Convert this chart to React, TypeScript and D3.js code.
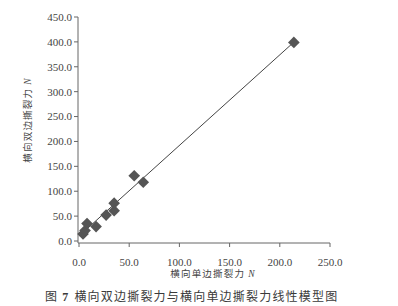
import React from "react";
import * as d3 from "d3";

const singleTear = [4, 6, 8, 17, 27, 35, 35, 55, 64, 214];
const doubleTear = [14, 21, 35, 29, 52, 61, 76, 131, 118, 399];
const fitIntercept = 10;
const fitSlope = 1.82;
const fitRange = [0, 214];
const xTicks = [0, 50, 100, 150, 200, 250];
const yTicks = [0, 50, 100, 150, 200, 250, 300, 350, 400, 450];
const xTitle = "横向单边撕裂力";
const yTitle = "横向双边撕裂力";
const caption = "横向双边撕裂力与横向单边撕裂力线性模型图";

const W = 398;
const H = 306;

export default function App() {
  const x = d3.scaleLinear().domain([0, 250]).range([79, 330]);
  const y = d3.scaleLinear().domain([0, 450]).range([241, 17]);
  const axisY = 243;
  const axisX = 78;
  const numFont = "'Liberation Serif', 'DejaVu Serif', serif";
  const cjkFont = "'Noto Sans CJK SC', sans-serif";
  const line = d3
    .line<number>()
    .x((d) => x(d))
    .y((d) => y(fitIntercept + fitSlope * d));
  const diamond = d3.symbol(d3.symbolSquare, 68)();
  const fmt = d3.format(".1f");
  return (
    <svg
      width={W}
      height={H}
      style={{ position: "absolute", left: 0, top: 0, background: "#fff" }}
    >
      {/* axes */}
      <line x1={axisX} x2={axisX} y1={y(450)} y2={axisY} stroke="#666" strokeWidth={1} />
      <line x1={axisX} x2={x(250)} y1={axisY} y2={axisY} stroke="#666" strokeWidth={1} />
      {yTicks.map((t) => (
        <g key={"y" + t}>
          <line x1={axisX - 4} x2={axisX} y1={y(t)} y2={y(t)} stroke="#666" />
          <text
            x={axisX - 6}
            y={y(t)}
            dy="0.35em"
            textAnchor="end"
            fontFamily={numFont}
            fontSize={11}
            fill="#444"
          >
            {fmt(t)}
          </text>
        </g>
      ))}
      {xTicks.map((t) => (
        <g key={"x" + t}>
          <line x1={x(t)} x2={x(t)} y1={axisY} y2={axisY + 4} stroke="#666" />
          <text
            x={x(t)}
            y={265.5}
            textAnchor="middle"
            fontFamily={numFont}
            fontSize={11}
            fill="#444"
          >
            {fmt(t)}
          </text>
        </g>
      ))}
      {/* fit line */}
      <path d={line(fitRange) || ""} stroke="#444" strokeWidth={1} fill="none" />
      {/* points */}
      {singleTear.map((v, i) => (
        <path
          key={"p" + i}
          d={diamond || ""}
          transform={`translate(${x(v)},${y(doubleTear[i])}) rotate(45)`}
          fill="#555"
        />
      ))}
      {/* axis titles */}
      <text
        x={213}
        y={277}
        textAnchor="middle"
        fontFamily={cjkFont}
        fontSize={9.5}
        fill="#444"
        letterSpacing={1.2}
      >
        {xTitle}
        <tspan fontFamily={numFont} fontStyle="italic" dx={3}>N</tspan>
      </text>
      <text
        transform={`translate(31,120) rotate(-90)`}
        textAnchor="middle"
        fontFamily={cjkFont}
        fontSize={9.5}
        fill="#444"
        letterSpacing={1.2}
      >
        {yTitle}
        <tspan fontFamily={numFont} fontStyle="italic" dx={3}>N</tspan>
      </text>
      {/* caption */}
      <text
        x={45}
        y={301}
        fontFamily={cjkFont}
        fontSize={12}
        fill="#3a3a3a"
        letterSpacing={1.2}
      >
        图
        <tspan fontFamily={numFont} fontWeight="bold" dx={4}>7</tspan>
        <tspan dx={5}>{caption}</tspan>
      </text>
    </svg>
  );
}
